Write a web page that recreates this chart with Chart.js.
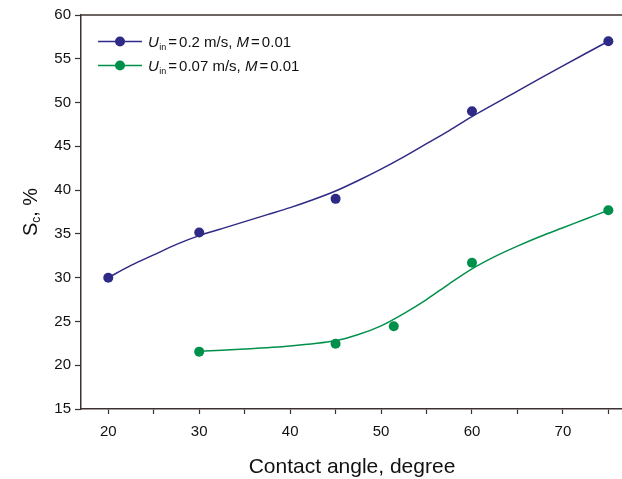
<!DOCTYPE html>
<html>
<head>
<meta charset="utf-8">
<script src="https://cdn.jsdelivr.net/npm/chart.js@4"></script>
<style>
  html, body { margin: 0; padding: 0; background: #fff; }
  #wrap { width: 622px; height: 479px; }
</style>
</head>
<body>
<div id="wrap"><canvas id="chart" width="622" height="479"></canvas></div>
<script>
// measured points
const angles = [20, 30, 45, 60, 75];
const fastValues = [30.0, 35.15, 39.0, 49.0, 57.0];
const slowAngles = [30, 45, 51.4, 60, 75];
const slowValues = [21.55, 22.45, 24.45, 31.7, 37.7];

// fitted curves
const fastCurveX = [20, 22.5, 25, 27.5, 30, 32.5, 35, 37.5, 40, 42.5, 45, 47.5, 50, 52.5, 55, 57.5, 60, 65, 70, 75];
const fastCurveY = [30.0, 31.4, 32.6, 33.8, 34.8, 35.6, 36.4, 37.2, 38.0, 38.9, 39.9, 41.1, 42.4, 43.8, 45.3, 46.8, 48.4, 51.3, 54.2, 57.0];
const slowCurveX = [30, 35, 40, 45, 47.5, 50, 52.5, 55, 57.5, 60, 62.5, 65, 67.5, 70, 72.5, 75];
const slowCurveY = [21.6, 21.85, 22.2, 22.8, 23.5, 24.5, 25.9, 27.5, 29.3, 31.0, 32.4, 33.6, 34.7, 35.7, 36.7, 37.7];

const xTicks = [20, 25, 30, 35, 40, 45, 50, 55, 60, 65, 70, 75];
const yTicks = [15, 20, 25, 30, 35, 40, 45, 50, 55, 60];

const BLUE = '#2e2a86';
const GREEN = '#00904c';
const AXIS = '#3d3030';
const FONT = '"Liberation Sans", Arial, sans-serif';

const pairs = (xs, ys) => xs.map((x, i) => ({ x: x, y: ys[i] }));

// top frame line, legend and axis titles with sub/italic parts
const decorations = {
    id: 'decorations',
    afterDraw(chart) {
        const ctx = chart.ctx;
        const area = chart.chartArea;
        ctx.save();

        ctx.strokeStyle = AXIS;
        ctx.lineWidth = 1.5;
        ctx.beginPath();
        ctx.moveTo(area.left, area.top);
        ctx.lineTo(chart.width, area.top);
        ctx.moveTo(area.right, area.bottom);
        ctx.lineTo(chart.width, area.bottom);
        ctx.stroke();

        ctx.textBaseline = 'alphabetic';

        // legend
        const rows = [
            { color: BLUE, speed: '0.2 m/s, ', y: 41.5 },
            { color: GREEN, speed: '0.07 m/s, ', y: 65.5 }
        ];
        rows.forEach(r => {
            ctx.strokeStyle = r.color;
            ctx.lineWidth = 1.5;
            ctx.beginPath();
            ctx.moveTo(98, r.y);
            ctx.lineTo(142, r.y);
            ctx.stroke();
            ctx.fillStyle = r.color;
            ctx.beginPath();
            ctx.arc(120, r.y, 5, 0, Math.PI * 2);
            ctx.fill();

            ctx.fillStyle = '#111';
            let x = 148;
            const base = r.y + 5.5;
            const parts = [
                ['italic 15px ' + FONT, 'U', 0, 0.5],
                ['9px ' + FONT, 'in', 3, 2],
                ['15px ' + FONT, '=', 0, 2],
                ['15px ' + FONT, r.speed, 0, 0],
                ['italic 15px ' + FONT, 'M', 0, 2],
                ['15px ' + FONT, '=', 0, 2],
                ['15px ' + FONT, '0.01', 0, 0]
            ];
            parts.forEach(([font, text, dy, gap]) => {
                ctx.font = font;
                ctx.fillText(text, x, base + dy);
                x += ctx.measureText(text).width + gap;
            });
        });

        // x title
        ctx.fillStyle = '#111';
        ctx.font = '21px ' + FONT;
        ctx.textAlign = 'center';
        ctx.fillText('Contact angle, degree', 352, 473);

        // y title
        ctx.translate(37, 212);
        ctx.rotate(-Math.PI / 2);
        ctx.textAlign = 'left';
        ctx.font = '20px ' + FONT;
        const wS = ctx.measureText('S').width;
        ctx.font = '12px ' + FONT;
        const wc = ctx.measureText('c').width;
        ctx.font = '20px ' + FONT;
        const wRest = ctx.measureText(', %').width;
        let tx = -(wS + wc + wRest) / 2;
        ctx.fillText('S', tx, 0);
        tx += wS;
        ctx.font = '12px ' + FONT;
        ctx.fillText('c', tx, 3);
        tx += wc;
        ctx.font = '20px ' + FONT;
        ctx.fillText(', %', tx, 0);

        ctx.restore();
    }
};

new Chart(document.getElementById('chart'), {
    type: 'scatter',
    data: {
        datasets: [
            {
                label: 'fast curve',
                data: pairs(fastCurveX, fastCurveY),
                showLine: true,
                borderColor: BLUE,
                borderWidth: 1.5,
                pointRadius: 0,
                tension: 0.3
            },
            {
                label: 'slow curve',
                data: pairs(slowCurveX, slowCurveY),
                showLine: true,
                borderColor: GREEN,
                borderWidth: 1.5,
                pointRadius: 0,
                tension: 0.3
            },
            {
                label: 'Uin = 0.2 m/s, M = 0.01',
                data: pairs(angles, fastValues),
                backgroundColor: BLUE,
                borderColor: BLUE,
                pointRadius: 5,
                pointBorderWidth: 0
            },
            {
                label: 'Uin = 0.07 m/s, M = 0.01',
                data: pairs(slowAngles, slowValues),
                backgroundColor: GREEN,
                borderColor: GREEN,
                pointRadius: 5,
                pointBorderWidth: 0
            }
        ]
    },
    options: {
        responsive: false,
        animation: false,
        layout: { autoPadding: false, padding: { top: 15, right: 0, left: 0, bottom: 0 } },
        plugins: {
            legend: { display: false },
            tooltip: { enabled: false }
        },
        scales: {
            x: {
                type: 'linear',
                min: 17,
                max: 76.5,
                afterBuildTicks: scale => { scale.ticks = xTicks.map(v => ({ value: v })); },
                afterFit: scale => {
                    scale.height = 70;
                    scale.paddingLeft = 0;
                    scale.paddingRight = 0;
                },
                grid: {
                    drawOnChartArea: false,
                    drawTicks: true,
                    tickLength: 5,
                    tickColor: AXIS,
                    tickWidth: 1.2
                },
                border: { color: AXIS, width: 1.5 },
                ticks: {
                    autoSkip: false,
                    maxRotation: 0,
                    padding: 9,
                    color: '#111',
                    font: { family: FONT, size: 15 },
                    callback: v => (v % 10 === 0 ? String(v) : '')
                }
            },
            y: {
                type: 'linear',
                min: 15,
                max: 60,
                afterBuildTicks: scale => { scale.ticks = yTicks.map(v => ({ value: v })); },
                afterFit: scale => { scale.width = 81; },
                grid: {
                    drawOnChartArea: false,
                    drawTicks: true,
                    tickLength: 6,
                    tickColor: AXIS,
                    tickWidth: 1.2
                },
                border: { color: AXIS, width: 1.5 },
                ticks: {
                    padding: 4,
                    color: '#111',
                    font: { family: FONT, size: 15 }
                }
            }
        }
    },
    plugins: [decorations]
});
</script>
</body>
</html>
